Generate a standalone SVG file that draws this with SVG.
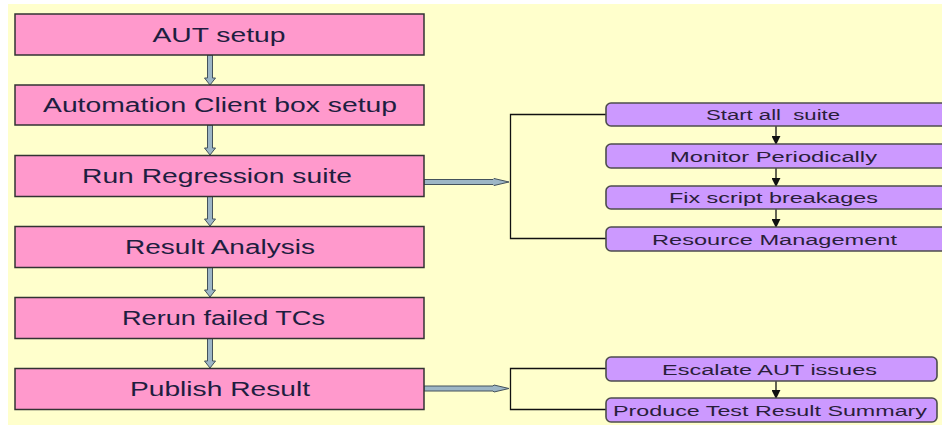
<svg xmlns="http://www.w3.org/2000/svg" width="942" height="425" viewBox="0 0 942 425">
  <defs>
    <style>
      .step { fill: #FF99CC; stroke: #333333; stroke-width: 1.5; }
      .task { fill: #CC99FF; stroke: #4d4d4d; stroke-width: 1.6; }
      .steptxt { font-family: "Liberation Sans", Arial, sans-serif; font-size: 19.5px; fill: #1e1e40; text-anchor: middle; }
      .tasktxt { font-family: "Liberation Sans", Arial, sans-serif; font-size: 15.5px; fill: #2a1e3a; text-anchor: middle; }
      .fat { fill: #9DB6C6; stroke: #44525c; stroke-width: 1; }
      .thin { fill: none; stroke: #111111; stroke-width: 1.3; }
    </style>
    <marker id="tip" viewBox="0 0 10 10" refX="9" refY="5" markerWidth="9" markerHeight="9" markerUnits="userSpaceOnUse" orient="auto">
      <path d="M0,0 L10,5 L0,10 z" fill="#111111"/>
    </marker>
  </defs>

  <!-- page background -->
  <rect x="8" y="4" width="940" height="425" fill="#FFFFCC"/>

  <!-- connectors -->
  <g id="connectors">
    <!-- block arrows between the main steps -->
    <path class="fat" d="M207.5,55 H212.5 V78 H215.5 L210,85 L204.5,78 H207.5 Z"/>
    <path class="fat" d="M207.5,125 H212.5 V148 H215.5 L210,155 L204.5,148 H207.5 Z"/>
    <path class="fat" d="M207.5,196 H212.5 V219 H215.5 L210,226 L204.5,219 H207.5 Z"/>
    <path class="fat" d="M207.5,267 H212.5 V290 H215.5 L210,297 L204.5,290 H207.5 Z"/>
    <path class="fat" d="M207.5,338 H212.5 V361 H215.5 L210,368 L204.5,361 H207.5 Z"/>
    <!-- block arrows out to the task lists -->
    <path class="fat" d="M424,179.5 H493 L494,178.5 L509,182 L494,185.5 L493,184.5 H424 Z"/>
    <path class="fat" d="M424,386 H493 L494,385 L509,388.5 L494,392 L493,391 H424 Z"/>
    <!-- brackets -->
    <path class="thin" d="M606,114.5 H510.5 V238.5 H606"/>
    <path class="thin" d="M606,368.5 H510.5 V409.5 H606"/>
    <!-- task sequence arrows -->
    <line class="thin" x1="776" y1="126" x2="776" y2="144" marker-end="url(#tip)"/>
    <line class="thin" x1="776" y1="168" x2="776" y2="186" marker-end="url(#tip)"/>
    <line class="thin" x1="776" y1="209" x2="776" y2="227" marker-end="url(#tip)"/>
    <line class="thin" x1="776" y1="380.5" x2="776" y2="398" marker-end="url(#tip)"/>
  </g>

  <!-- main steps -->
  <g id="aut-setup">
    <rect class="step" x="15" y="14" width="409" height="41"/>
    <text class="steptxt" x="219" y="42" textLength="133" lengthAdjust="spacingAndGlyphs">AUT setup</text>
  </g>
  <g id="client-setup">
    <rect class="step" x="15" y="85" width="409" height="40"/>
    <text class="steptxt" x="220" y="112" textLength="354" lengthAdjust="spacingAndGlyphs">Automation Client box setup</text>
  </g>
  <g id="run-regression">
    <rect class="step" x="15" y="155.5" width="409" height="41"/>
    <text class="steptxt" x="217" y="183" textLength="270" lengthAdjust="spacingAndGlyphs">Run Regression suite</text>
  </g>
  <g id="result-analysis">
    <rect class="step" x="15" y="226.5" width="409" height="41"/>
    <text class="steptxt" x="220" y="254" textLength="190" lengthAdjust="spacingAndGlyphs">Result Analysis</text>
  </g>
  <g id="rerun-failed">
    <rect class="step" x="15" y="297.5" width="409" height="41"/>
    <text class="steptxt" x="223.5" y="325" textLength="203" lengthAdjust="spacingAndGlyphs">Rerun failed TCs</text>
  </g>
  <g id="publish-result">
    <rect class="step" x="15" y="368.5" width="409" height="41"/>
    <text class="steptxt" x="220" y="396" textLength="180" lengthAdjust="spacingAndGlyphs">Publish Result</text>
  </g>

  <!-- regression tasks -->
  <g id="start-all-suite">
    <rect class="task" x="606" y="103" width="345" height="23" rx="5"/>
    <text class="tasktxt" x="773" y="120" textLength="134" lengthAdjust="spacingAndGlyphs" xml:space="preserve">Start all  suite</text>
  </g>
  <g id="monitor-periodically">
    <rect class="task" x="606" y="144" width="345" height="24" rx="5"/>
    <text class="tasktxt" x="773.5" y="161.5" textLength="207" lengthAdjust="spacingAndGlyphs">Monitor Periodically</text>
  </g>
  <g id="fix-breakages">
    <rect class="task" x="606" y="186" width="345" height="23" rx="5"/>
    <text class="tasktxt" x="773.5" y="203" textLength="209" lengthAdjust="spacingAndGlyphs">Fix script breakages</text>
  </g>
  <g id="resource-management">
    <rect class="task" x="606" y="227" width="345" height="24" rx="5"/>
    <text class="tasktxt" x="774.5" y="244.5" textLength="245" lengthAdjust="spacingAndGlyphs">Resource Management</text>
  </g>

  <!-- publishing tasks -->
  <g id="escalate-issues">
    <rect class="task" x="606" y="357" width="331" height="24" rx="5"/>
    <text class="tasktxt" x="769.5" y="374.5" textLength="215" lengthAdjust="spacingAndGlyphs">Escalate AUT issues</text>
  </g>
  <g id="result-summary">
    <rect class="task" x="606" y="398" width="331" height="24" rx="5"/>
    <text class="tasktxt" x="770" y="415.5" textLength="314" lengthAdjust="spacingAndGlyphs">Produce Test Result Summary</text>
  </g>
</svg>
